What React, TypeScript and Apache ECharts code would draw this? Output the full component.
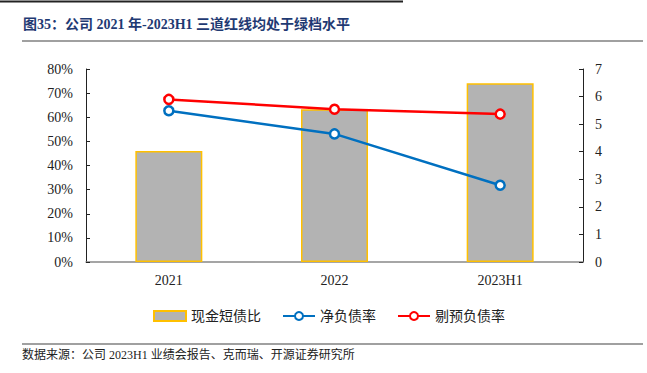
import React, { useEffect, useRef } from "react";
import * as echarts from "echarts";

const categories = ["2021", "2022", "2023H1"];
const cashShortDebt = [4.03, 5.54, 6.48];
const netDebtRatio = [62.7, 53.1, 31.8];
const adjDebtRatio = [67.4, 63.3, 61.3];
const leftTicks = { min: 0, max: 80, interval: 10 };
const rightTicks = { min: 0, max: 7, interval: 1 };

const SERIF = '"Liberation Serif", "Times New Roman", "Noto Sans CJK SC", serif';
const CJK = '"Liberation Serif", "Noto Sans CJK SC", serif';

export default function App() {
  const ref = useRef<HTMLDivElement>(null);
  useEffect(() => {
    document.body.style.margin = "0";
    const chart = echarts.init(ref.current!, null, { renderer: "svg" });
    chart.setOption({
      animation: false,
      backgroundColor: "#ffffff",
      grid: { left: 86, right: 64, top: 69, bottom: 111 },
      graphic: [
        { type: "line", shape: { x1: 0, y1: 1.5, x2: 403, y2: 1.5 }, style: { stroke: "#222", lineWidth: 2 } },
        {
          type: "text",
          left: 23,
          top: 17,
          style: {
            text: "图35：公司 2021 年-2023H1 三道红线均处于绿档水平",
            font: `bold 14px ${SERIF}`,
            fill: "#1F3A73",
          },
        },
        { type: "line", shape: { x1: 22, y1: 41, x2: 643, y2: 41 }, style: { stroke: "#808080", lineWidth: 1.5 } },
        { type: "line", shape: { x1: 22, y1: 344, x2: 643, y2: 344 }, style: { stroke: "#808080", lineWidth: 1.5 } },
        {
          type: "text",
          left: 22,
          top: 349,
          style: {
            text: "数据来源：公司 2023H1 业绩会报告、克而瑞、开源证券研究所",
            font: `12px ${CJK}`,
            fill: "#222",
          },
        },
      ],
      legend: {
        left: 148,
        top: 304,
        itemWidth: 32,
        itemHeight: 10,
        itemGap: 21,
        textStyle: { fontSize: 14, fontFamily: CJK, color: "#222" },
        data: [{ name: "现金短债比", icon: "rect" }, { name: "净负债率" }, { name: "剔预负债率" }],
      },
      xAxis: {
        type: "category",
        data: categories,
        axisLine: { lineStyle: { color: "#888", width: 1.5 } },
        axisTick: { inside: true, length: 4, lineStyle: { color: "#555" } },
        axisLabel: { fontSize: 14, fontFamily: SERIF, color: "#222", margin: 11 },
      },
      yAxis: [
        {
          type: "value",
          ...leftTicks,
          position: "left",
          axisLine: { show: true, lineStyle: { color: "#222", width: 1 } },
          axisTick: { show: true, inside: true, length: 4, lineStyle: { color: "#222" } },
          axisLabel: { fontSize: 14, fontFamily: SERIF, color: "#222", margin: 13, formatter: "{value}%" },
          splitLine: { show: false },
        },
        {
          type: "value",
          ...rightTicks,
          position: "right",
          axisLine: { show: true, lineStyle: { color: "#222", width: 1 } },
          axisTick: { show: true, inside: true, length: 4, lineStyle: { color: "#222" } },
          axisLabel: { fontSize: 14, fontFamily: SERIF, color: "#222", margin: 12 },
          splitLine: { show: false },
        },
      ],
      series: [
        {
          name: "现金短债比",
          type: "bar",
          yAxisIndex: 1,
          data: cashShortDebt,
          barWidth: 67,
          itemStyle: { color: "#B3B3B3", borderColor: "#FFC000", borderWidth: 1.5 },
        },
        {
          name: "净负债率",
          type: "line",
          yAxisIndex: 0,
          data: netDebtRatio,
          symbol: "circle",
          symbolSize: 9,
          lineStyle: { color: "#0070C0", width: 2.5 },
          itemStyle: { color: "#ffffff", borderColor: "#0070C0", borderWidth: 2.5 },
        },
        {
          name: "剔预负债率",
          type: "line",
          yAxisIndex: 0,
          data: adjDebtRatio,
          symbol: "circle",
          symbolSize: 9,
          lineStyle: { color: "#FF0000", width: 2.5 },
          itemStyle: { color: "#ffffff", borderColor: "#FF0000", borderWidth: 2.5 },
        },
      ],
    });
    return () => chart.dispose();
  }, []);
  return <div ref={ref} style={{ width: 647, height: 373 }} />;
}
